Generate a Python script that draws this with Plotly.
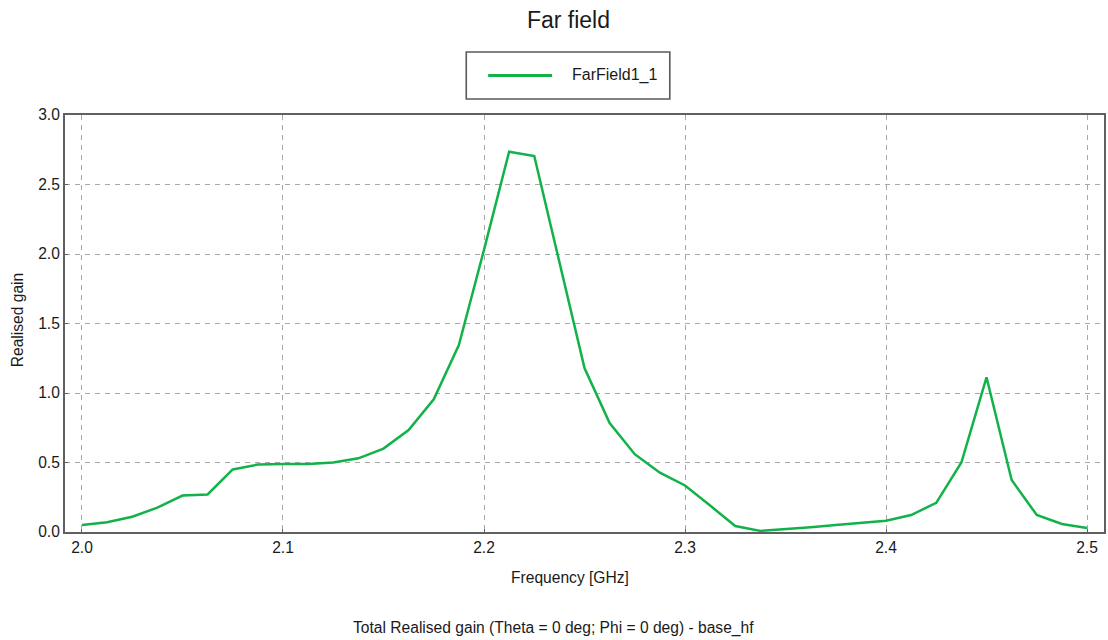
import plotly.graph_objects as go

# Frequency sweep (GHz) and total realised gain along theta = 0, phi = 0
freq_start = 2.0
freq_step = 0.0125
gain = [
    0.05, 0.07, 0.11, 0.175, 0.262, 0.27, 0.45, 0.485, 0.49, 0.49,
    0.50, 0.53, 0.60, 0.734, 0.955, 1.345, 2.03, 2.736, 2.705, 1.94,
    1.18, 0.784, 0.56, 0.427, 0.335, 0.19, 0.043, 0.008, 0.02, 0.035,
    0.05, 0.065, 0.081, 0.122, 0.21, 0.50, 1.113, 0.374, 0.122, 0.058,
    0.029,
]
freq = [round(freq_start + i * freq_step, 4) for i in range(len(gain))]

x_ticks = [2.0, 2.1, 2.2, 2.3, 2.4, 2.5]
y_ticks = [0.0, 0.5, 1.0, 1.5, 2.0, 2.5, 3.0]

series_name = "FarField1_1"
title_text = "Far field"
x_title = "Frequency [GHz]"
y_title = "Realised gain"
footer_text = "Total Realised gain (Theta = 0 deg; Phi = 0 deg) - base_hf"

FONT = "Liberation Sans, Arial, sans-serif"
TEXT = "#1a1a1a"
GRID = "#a8a8a8"
FRAME = "#606060"
GREEN = "#12b24b"

fig = go.Figure()
fig.add_trace(go.Scatter(
    x=freq, y=gain, mode="lines", name=series_name,
    line=dict(color=GREEN, width=2.5), showlegend=False,
))

axis_common = dict(
    showgrid=True, gridcolor=GRID, griddash="5px,5px", gridwidth=1.4,
    showline=True, linecolor=FRAME, linewidth=2, mirror=True,
    ticks="inside", ticklen=3, tickcolor=FRAME,
    tickfont=dict(family=FONT, size=15.6, color=TEXT),
    zeroline=False,
)

# Legend box drawn in paper coordinates above the plot area
leg_x0, leg_x1 = 0.3862, 0.5821
leg_y0, leg_y1 = 1.0384, 1.1511
leg_yc = (leg_y0 + leg_y1) / 2

fig.update_layout(
    width=1108, height=640,
    paper_bgcolor="white", plot_bgcolor="white",
    margin=dict(l=65, r=2, t=115, b=108),
    title=dict(text=title_text, xref="paper", x=0.4846, xanchor="center",
               y=0.969, yanchor="middle",
               font=dict(family=FONT, size=23, color=TEXT)),
    font=dict(family=FONT, color=TEXT),
    xaxis=dict(
        range=[1.99155, 2.50845], tickvals=x_ticks,
        ticktext=[f"{v:.1f}" for v in x_ticks],
        **axis_common,
    ),
    yaxis=dict(
        range=[0, 3.0], tickvals=y_ticks,
        ticktext=[f"{v:.1f}" for v in y_ticks],
        **axis_common,
    ),
    shapes=[
        dict(type="rect", xref="paper", yref="paper",
             x0=leg_x0, x1=leg_x1, y0=leg_y0, y1=leg_y1,
             line=dict(color="#5a5a5a", width=1.6), fillcolor="white", layer="above"),
        dict(type="line", xref="paper", yref="paper",
             x0=0.4073, x1=0.4688, y0=leg_yc, y1=leg_yc,
             line=dict(color=GREEN, width=3), layer="above"),
    ],
    annotations=[
        dict(text=series_name, xref="paper", yref="paper", x=0.4861, y=leg_yc,
             xanchor="left", yanchor="middle", showarrow=False,
             font=dict(family=FONT, size=16, color=TEXT)),
        dict(text=x_title, xref="paper", yref="paper", x=0.4861, y=-0.110,
             xanchor="center", yanchor="middle", showarrow=False,
             font=dict(family=FONT, size=15.6, color=TEXT)),
        dict(text=y_title, xref="paper", yref="paper", x=-0.0461, y=0.508,
             xanchor="center", yanchor="middle", textangle=-90, showarrow=False,
             font=dict(family=FONT, size=15.6, color=TEXT)),
        dict(text=footer_text, xref="paper", yref="paper", x=0.470, y=-0.230,
             xanchor="center", yanchor="middle", showarrow=False,
             font=dict(family=FONT, size=15.6, color=TEXT)),
    ],
)

fig.write_html("out.html")
